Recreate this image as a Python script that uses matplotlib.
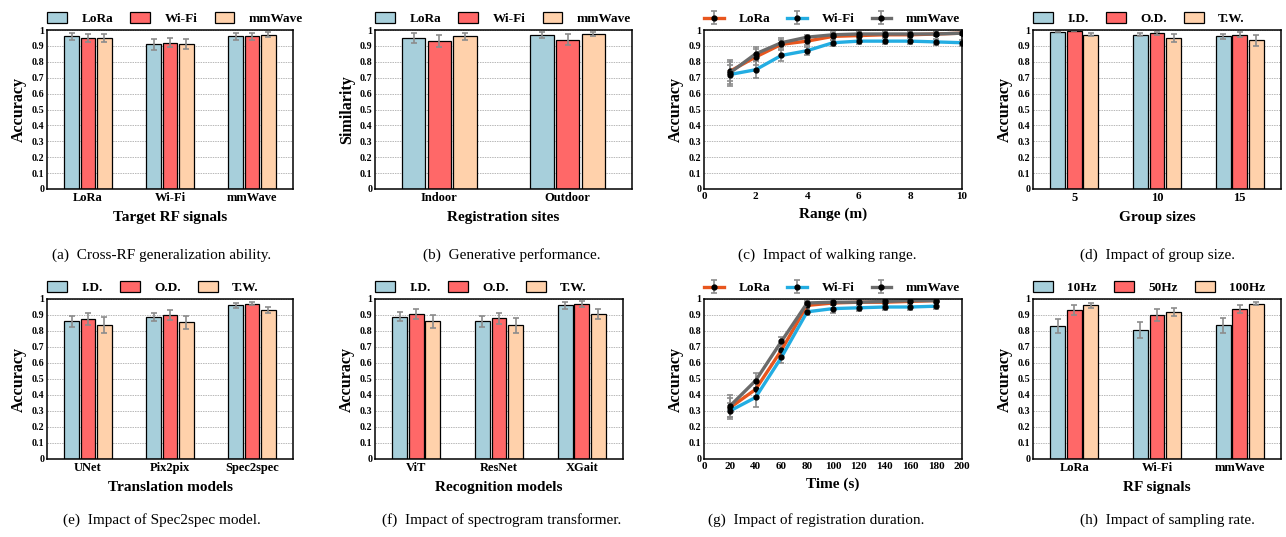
import matplotlib.pyplot as plt
import numpy as np

plt.rcParams['font.family'] = ['Liberation Serif', 'DejaVu Serif']
plt.rcParams['font.weight'] = 'bold'
plt.rcParams['axes.labelweight'] = 'bold'

BAR_COLORS = ['#a7cfdb', '#ff6868', '#ffd1ab']
LINE_COLORS = ['#e8561e', '#23ade2', '#6b6b6b']
ERR_COLOR = '#8c8c8c'

# (a) cross-RF generalization
a_groups = ['LoRa', 'Wi-Fi', 'mmWave']
a_series = ['LoRa', 'Wi-Fi', 'mmWave']
a_vals = [[0.96, 0.91, 0.96], [0.95, 0.92, 0.96], [0.95, 0.91, 0.97]]
a_errs = [[0.02, 0.035, 0.02], [0.025, 0.03, 0.02], [0.025, 0.032, 0.015]]

# (b) generative performance
b_groups = ['Indoor', 'Outdoor']
b_series = ['LoRa', 'Wi-Fi', 'mmWave']
b_vals = [[0.95, 0.97], [0.93, 0.94], [0.96, 0.975]]
b_errs = [[0.03, 0.02], [0.04, 0.035], [0.02, 0.01]]

# (c) walking range
c_x = [1, 2, 3, 4, 5, 6, 7, 8, 9, 10]
c_series = ['LoRa', 'Wi-Fi', 'mmWave']
c_vals = [[0.74, 0.83, 0.91, 0.93, 0.96, 0.965, 0.97, 0.97, 0.975, 0.98],
          [0.72, 0.75, 0.84, 0.87, 0.92, 0.93, 0.93, 0.93, 0.925, 0.92],
          [0.73, 0.85, 0.92, 0.955, 0.97, 0.975, 0.975, 0.975, 0.975, 0.98]]
c_errs = [[0.06, 0.05, 0.03, 0.025, 0.02, 0.02, 0.015, 0.015, 0.015, 0.01],
          [0.06, 0.055, 0.035, 0.025, 0.02, 0.02, 0.02, 0.02, 0.02, 0.02],
          [0.08, 0.045, 0.03, 0.015, 0.015, 0.01, 0.01, 0.01, 0.01, 0.01]]

# (d) group size
d_groups = ['5', '10', '15']
d_series = ['I.D.', 'O.D.', 'T.W.']
d_vals = [[0.99, 0.97, 0.96], [0.995, 0.98, 0.97], [0.97, 0.95, 0.935]]
d_errs = [[0.004, 0.01, 0.015], [0.004, 0.01, 0.015], [0.01, 0.025, 0.035]]

# (e) translation models
e_groups = ['UNet', 'Pix2pix', 'Spec2spec']
e_series = ['I.D.', 'O.D.', 'T.W.']
e_vals = [[0.86, 0.89, 0.96], [0.875, 0.90, 0.97], [0.835, 0.855, 0.93]]
e_errs = [[0.035, 0.025, 0.015], [0.04, 0.03, 0.01], [0.05, 0.04, 0.02]]

# (f) recognition models
f_groups = ['ViT', 'ResNet', 'XGait']
f_series = ['I.D.', 'O.D.', 'T.W.']
f_vals = [[0.89, 0.86, 0.96], [0.905, 0.88, 0.97], [0.86, 0.835, 0.905]]
f_errs = [[0.03, 0.035, 0.02], [0.03, 0.035, 0.02], [0.04, 0.045, 0.03]]

# (g) registration duration
g_x = [20, 40, 60, 80, 100, 120, 140, 160, 180]
g_series = ['LoRa', 'Wi-Fi', 'mmWave']
g_vals = [[0.32, 0.435, 0.68, 0.96, 0.975, 0.98, 0.98, 0.985, 0.99],
          [0.30, 0.385, 0.635, 0.92, 0.94, 0.945, 0.95, 0.95, 0.955],
          [0.33, 0.49, 0.735, 0.975, 0.98, 0.98, 0.985, 0.99, 0.99]]
g_errs = [[0.06, 0.05, 0.03, 0.015, 0.015, 0.015, 0.015, 0.01, 0.01],
          [0.05, 0.06, 0.035, 0.02, 0.025, 0.02, 0.02, 0.02, 0.02],
          [0.07, 0.045, 0.03, 0.015, 0.01, 0.01, 0.01, 0.01, 0.01]]

# (h) sampling rate
h_groups = ['LoRa', 'Wi-Fi', 'mmWave']
h_series = ['10Hz', '50Hz', '100Hz']
h_vals = [[0.83, 0.805, 0.835], [0.93, 0.90, 0.94], [0.96, 0.92, 0.97]]
h_errs = [[0.045, 0.05, 0.045], [0.03, 0.035, 0.025], [0.015, 0.025, 0.01]]

captions = ['(a)  Cross-RF generalization ability.', '(b)  Generative performance.',
            '(c)  Impact of walking range.', '(d)  Impact of group size.',
            '(e)  Impact of Spec2spec model.', '(f)  Impact of spectrogram transformer.',
            '(g)  Impact of registration duration.', '(h)  Impact of sampling rate.']

W, H = 1286, 537
fig = plt.figure(figsize=(W / 100, H / 100), dpi=100)


def make_ax(x0, x1, y0, y1):
    return fig.add_axes([x0 / W, 1 - y1 / H, (x1 - x0) / W, (y1 - y0) / H])


def style(ax, ylabel, xlabel):
    ax.set_ylim(0, 1)
    yt = np.round(np.arange(0, 1.01, 0.1), 1)
    ax.set_yticks(yt)
    ax.set_yticklabels(['0' if v == 0 else ('1' if v == 1 else f'{v:.1f}') for v in yt])
    ax.yaxis.grid(True, linestyle=(0, (1.5, 1)), color='#b8b8b8', lw=0.7)
    ax.set_axisbelow(True)
    ax.tick_params(axis='y', length=0, pad=2, labelsize=7.2)
    ax.tick_params(axis='x', length=0, pad=2)
    for s in ax.spines.values():
        s.set_linewidth(1.1)
    ax.set_ylabel(ylabel, fontsize=11.5, fontweight='bold', labelpad=3)
    ax.set_xlabel(xlabel, fontsize=11, fontweight='bold', labelpad=5)


def bar_chart(ax, groups, series, vals, errs, ylabel, xlabel):
    x = np.arange(len(groups))
    for i, (name, v, e) in enumerate(zip(series, vals, errs)):
        ax.bar(x + (i - 1) * 0.2, v, 0.18, yerr=e, color=BAR_COLORS[i], edgecolor='black',
               linewidth=0.9, label=name,
               error_kw=dict(ecolor=ERR_COLOR, elinewidth=1.2, capsize=2.5, capthick=1.2))
    ax.set_xticks(x)
    ax.set_xticklabels(groups, fontsize=9)
    ax.set_xlim(-0.5, len(groups) - 0.5)
    style(ax, ylabel, xlabel)
    ax.legend(loc='lower left', bbox_to_anchor=(0, 1.03), ncol=3, frameon=False,
              fontsize=9.5, handlelength=1.5, handleheight=0.95, handletextpad=1.1,
              columnspacing=1.3, borderpad=0, borderaxespad=0)


def line_chart(ax, xs, series, vals, errs, xlim, xticks, ylabel, xlabel):
    for i, (name, v, e) in enumerate(zip(series, vals, errs)):
        ax.errorbar(xs, v, yerr=e, color=LINE_COLORS[i], lw=2.4, marker='o', ms=3.5,
                    mfc='black', mec='black', ecolor=ERR_COLOR, elinewidth=1.2,
                    capsize=2.5, capthick=1.2, label=name)
    ax.set_xlim(*xlim)
    ax.set_xticks(xticks)
    ax.set_xticklabels([str(t) for t in xticks], fontsize=8)
    style(ax, ylabel, xlabel)
    ax.legend(loc='lower left', bbox_to_anchor=(0, 1.03), ncol=3, frameon=False,
              fontsize=9.5, handlelength=1.5, handletextpad=1.1,
              columnspacing=1.3, borderpad=0, borderaxespad=0)


ax = make_ax(47, 293, 30, 189)
bar_chart(ax, a_groups, a_series, a_vals, a_errs, 'Accuracy', 'Target RF signals')
ax = make_ax(375, 632, 30, 189)
bar_chart(ax, b_groups, b_series, b_vals, b_errs, 'Similarity', 'Registration sites')
ax = make_ax(704, 962, 30, 189)
line_chart(ax, c_x, c_series, c_vals, c_errs, (0, 10), [0, 2, 4, 6, 8, 10], 'Accuracy', 'Range (m)')
ax = make_ax(1033, 1281, 30, 189)
bar_chart(ax, d_groups, d_series, d_vals, d_errs, 'Accuracy', 'Group sizes')

ax = make_ax(47, 293, 299, 459)
bar_chart(ax, e_groups, e_series, e_vals, e_errs, 'Accuracy', 'Translation models')
ax = make_ax(375, 623, 299, 459)
bar_chart(ax, f_groups, f_series, f_vals, f_errs, 'Accuracy', 'Recognition models')
ax = make_ax(704, 962, 299, 459)
line_chart(ax, g_x, g_series, g_vals, g_errs, (0, 200), list(range(0, 201, 20)), 'Accuracy', 'Time (s)')
ax = make_ax(1033, 1281, 299, 459)
bar_chart(ax, h_groups, h_series, h_vals, h_errs, 'Accuracy', 'RF signals')

cap_x = [162, 512, 827, 1158, 162, 502, 816, 1167]
cap_y = [255, 255, 255, 255, 520, 520, 520, 520]
for cx, cy, txt in zip(cap_x, cap_y, captions):
    fig.text(cx / W, 1 - cy / H, txt, ha='center', va='center', fontsize=11, fontweight='normal')

fig.savefig('out.png', dpi=100)
